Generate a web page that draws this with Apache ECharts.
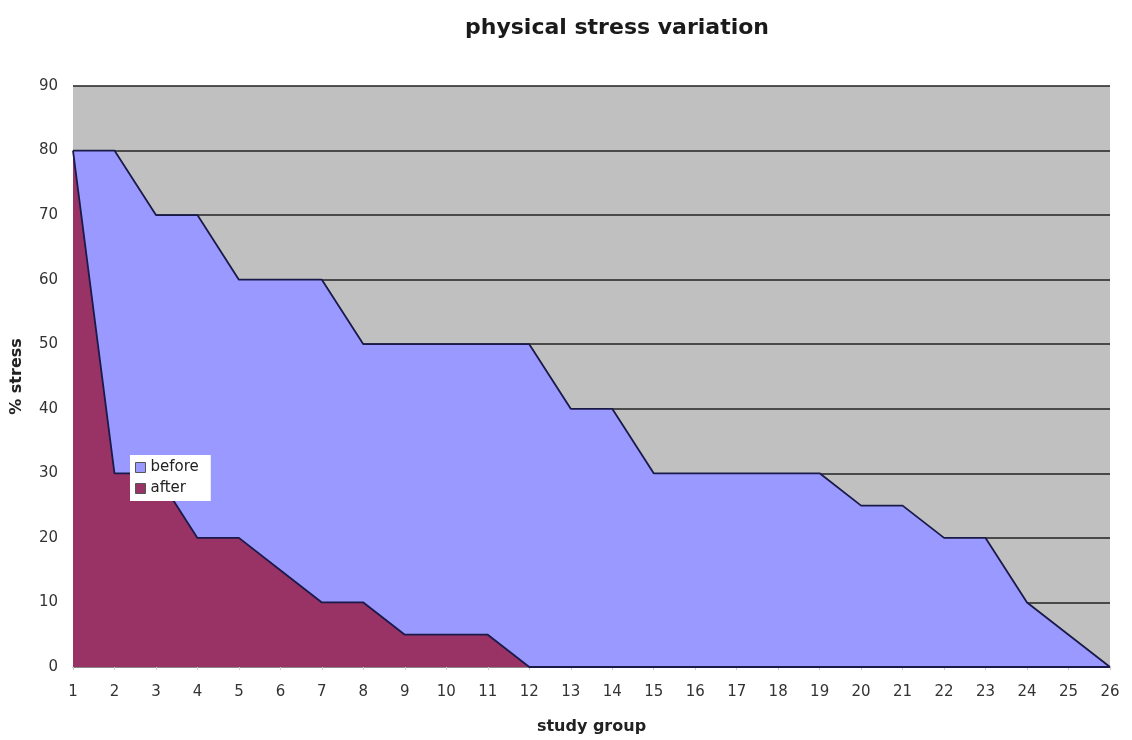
<!DOCTYPE html>
<html><head><meta charset="utf-8">
<script src="https://cdn.jsdelivr.net/npm/echarts@6/dist/echarts.min.js"></script>
<style>html,body{margin:0;padding:0;background:#fff}#c{width:1132px;height:740px}</style>
</head><body><div id="c"></div>
<script>
const categories = ['1','2','3','4','5','6','7','8','9','10','11','12','13','14','15','16','17','18','19','20','21','22','23','24','25','26'];
const beforeValues = [80,80,70,70,60,60,60,50,50,50,50,50,40,40,30,30,30,30,30,25,25,20,20,10,5,0];
const afterValues  = [80,30,30,20,20,15,10,10,5,5,5,0,0,0,0,0,0,0,0,0,0,0,0,0,0,0];
const yTicks = [0,10,20,30,40,50,60,70,80,90];

const chart = echarts.init(document.getElementById('c'));
const font = 'DejaVu Sans';
chart.setOption({
  animation:false,
  backgroundColor:'#ffffff',
  title:{text:'physical stress variation',left:612,textAlign:'center',top:12,
    textStyle:{fontFamily:font,fontWeight:'bold',fontSize:22,color:'#1a1a1a'}},
  legend:{orient:'vertical',left:130,top:455,backgroundColor:'#ffffff',padding:[5,12,5,5],
    itemWidth:10,itemHeight:10,itemGap:6,icon:'rect',
    textStyle:{fontFamily:font,fontSize:15,color:'#222'},
    data:[{name:'before',itemStyle:{color:'#9999ff',borderColor:'#555',borderWidth:1}},
          {name:'after',itemStyle:{color:'#993366',borderColor:'#555',borderWidth:1}}]},
  grid:{left:73,right:22,top:86,bottom:70,show:true,backgroundColor:'#c0c0c0',borderWidth:0},
  xAxis:{type:'category',data:categories,boundaryGap:false,
    name:'study group',nameLocation:'middle',nameGap:52,
    nameTextStyle:{fontFamily:font,fontWeight:'bold',fontSize:16,color:'#222'},
    axisLine:{lineStyle:{color:'#888'}},axisTick:{show:true,length:3,lineStyle:{color:'#ccc'}},
    axisLabel:{fontFamily:font,fontSize:15,color:'#333',margin:18},
    splitLine:{show:false}},
  yAxis:{type:'value',min:yTicks[0],max:yTicks[yTicks.length-1],interval:10,
    name:'% stress',nameLocation:'middle',nameGap:48,nameRotate:90,
    nameTextStyle:{fontFamily:font,fontWeight:'bold',fontSize:16,color:'#222'},
    axisLine:{show:false},axisTick:{show:false},
    axisLabel:{fontFamily:font,fontSize:15,color:'#333',margin:15},
    splitLine:{show:true,lineStyle:{color:'#222',width:1.5}}},
  series:[
    {name:'before',type:'line',data:beforeValues,symbol:'none',
      lineStyle:{color:'#1a1a4a',width:1.8},itemStyle:{color:'#9999ff'},
      areaStyle:{color:'#9999ff',opacity:1}},
    {name:'after',type:'line',data:afterValues,symbol:'none',
      lineStyle:{color:'#1a1a4a',width:1.8},itemStyle:{color:'#993366'},
      areaStyle:{color:'#993366',opacity:1}}
  ]
});
</script></body></html>
